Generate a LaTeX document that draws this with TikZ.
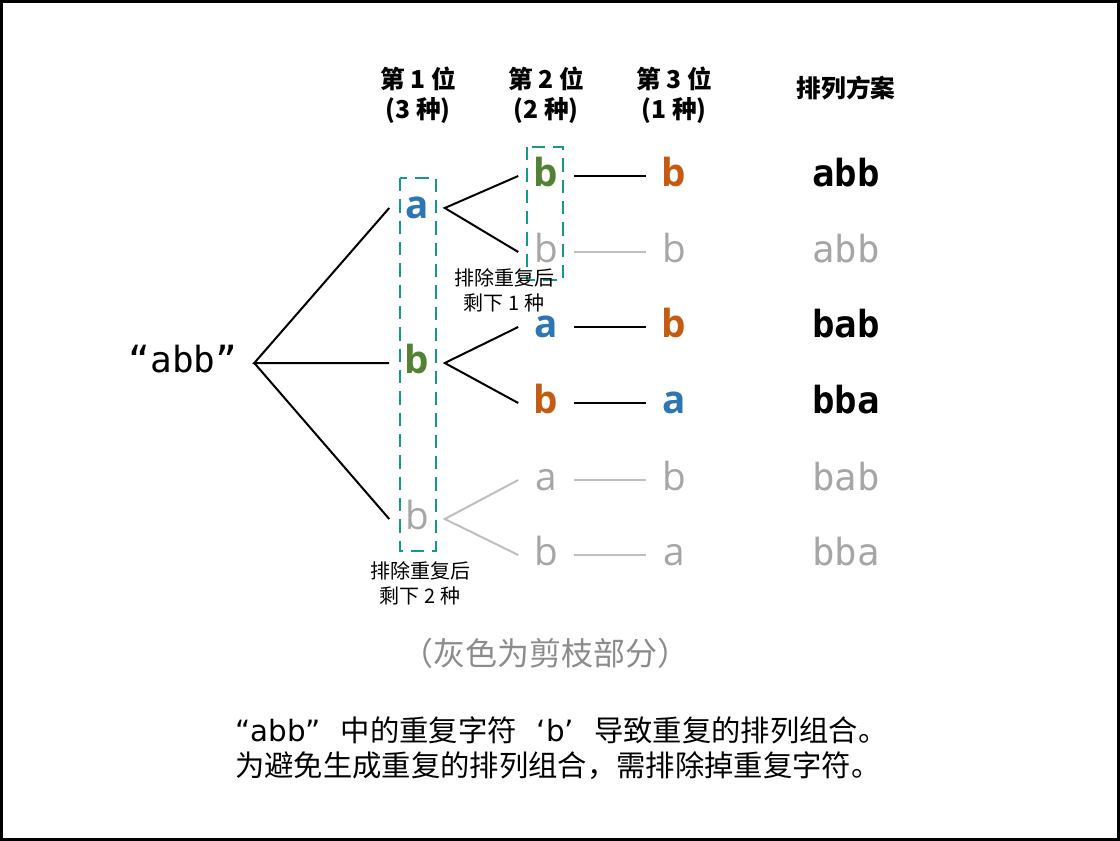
\documentclass[tikz,border=0pt]{standalone}
\usepackage{fontspec}
\setmainfont{Open Sans}
\newfontfamily\cjk{Noto Sans CJK SC}
\newfontfamily\monofont{DejaVu Sans Mono}
\newfontfamily\latinfont{DejaVu Sans}
\usetikzlibrary{positioning}

\definecolor{keyblue}{HTML}{2E75B6}
\definecolor{keygreen}{HTML}{548235}
\definecolor{keyorange}{HTML}{C55A11}
\definecolor{prunegray}{HTML}{A6A6A6}
\definecolor{prunelink}{HTML}{BFBFBF}
\definecolor{boxteal}{HTML}{14998A}
\definecolor{notegray}{HTML}{8C8C8C}

\begin{document}
\begin{tikzpicture}[
    x=0.75pt, y=-0.75pt,
    letter/.style={inner sep=0pt, minimum width=41.25pt, text height=15.5pt, text depth=0pt, font=\fontsize{29pt}{34pt}\selectfont},
    strong/.style={letter, font=\fontsize{29pt}{34pt}\selectfont\bfseries},
    result/.style={inner sep=0pt, text height=15.3pt, text depth=0pt, font=\fontsize{28pt}{34pt}\selectfont\monofont\bfseries},
    faded/.style={inner sep=0pt, text height=15.3pt, text depth=0pt, prunegray, font=\fontsize{28pt}{34pt}\selectfont\monofont},
    head/.style={align=center, inner sep=0pt, font=\fontsize{18.5pt}{22.5pt}\selectfont\cjk\bfseries},
    remark/.style={align=center, inner sep=0pt, font=\fontsize{15pt}{18.75pt}\selectfont\cjk},
    link/.style={line width=1.5pt},
    pruned/.style={line width=1.5pt, prunelink},
    dashbox/.style={draw=boxteal, line width=1.5pt, dash pattern=on 10pt off 6pt}
]
\useasboundingbox (0,0) rectangle (1120,841);
\draw[line width=2.25pt] (1.5,1.5) rectangle (1118.5,839.5);

% column headings
\node[head] (h1) at (418,95) {第 1 位\\(3 种)};
\node[head] (h2) at (546,95) {第 2 位\\(2 种)};
\node[head] (h3) at (674,95) {第 3 位\\(1 种)};
\node[head] (h4) at (846,88) {排列方案};

% root
\node[inner sep=0pt, minimum width=106.5pt, text height=14.7pt, text depth=0pt, font=\fontsize{27pt}{32pt}\selectfont\monofont] (root) at (183,363) {“abb”};

% first position
\node[strong, keyblue] (n1) at (417,208) {a};
\node[strong, keygreen] (n2) at (417,363) {b};
\node[letter, prunegray] (n3) at (417,519) {b};

% second position
\node[strong, keygreen] (n11) at (546,176) {b};
\node[letter, prunegray] (n12) at (546,252) {b};
\node[strong, keyblue] (n21) at (546,327) {a};
\node[strong, keyorange] (n22) at (546,403) {b};
\node[letter, prunegray] (n31) at (546,480) {a};
\node[letter, prunegray] (n32) at (546,555) {b};

% third position
\node[strong, keyorange] (n111) at (674,176) {b};
\node[letter, prunegray] (n121) at (674,252) {b};
\node[strong, keyorange] (n211) at (674,327) {b};
\node[strong, keyblue] (n221) at (674,403) {a};
\node[letter, prunegray] (n311) at (674,480) {b};
\node[letter, prunegray] (n321) at (674,555) {a};

% permutations
\node[result] (r1) at (846,176) {abb};
\node[faded] (r2) at (846,252) {abb};
\node[result] (r3) at (846,327) {bab};
\node[result] (r4) at (846,403) {bba};
\node[faded] (r5) at (846,480) {bab};
\node[faded] (r6) at (846,555) {bba};

% branches
\draw[link] (n1.west) -- (root.east) -- (n2.west);
\draw[link] (root.east) -- (n3.west);
\draw[link] (n11.west) -- (n1.east) -- (n12.west);
\draw[link] (n21.west) -- (n2.east) -- (n22.west);
\draw[pruned] (n31.west) -- (n3.east) -- (n32.west);
\draw[link] (n11) -- (n111);
\draw[pruned] (n12) -- (n121);
\draw[link] (n21) -- (n211);
\draw[link] (n22) -- (n221);
\draw[pruned] (n31) -- (n311);
\draw[pruned] (n32) -- (n321);

% duplicate groups
\draw[dashbox] (400,178) rectangle (436,551);
\draw[dashbox] (527,147) rectangle (563,280);
\node[remark] (c1) at (504,290) {排除重复后\\剩下 1 种};
\node[remark] (c2) at (420,583.5) {排除重复后\\剩下 2 种};

% notes
\node[inner sep=0pt, notegray, font=\fontsize{24pt}{28pt}\selectfont\cjk] (gray) at (545,653) {（灰色为剪枝部分）};
\node[anchor=west, align=left, inner sep=0pt, font=\fontsize{22pt}{26.25pt}\selectfont\cjk] (sum) at (235,748.5) {{\latinfont “abb”}\hspace{15pt}中的重复字符\hspace{15pt}{\latinfont ‘b’}\hspace{15pt}导致重复的排列组合。\\为避免生成重复的排列组合，需排除掉重复字符。};
\end{tikzpicture}
\end{document}
